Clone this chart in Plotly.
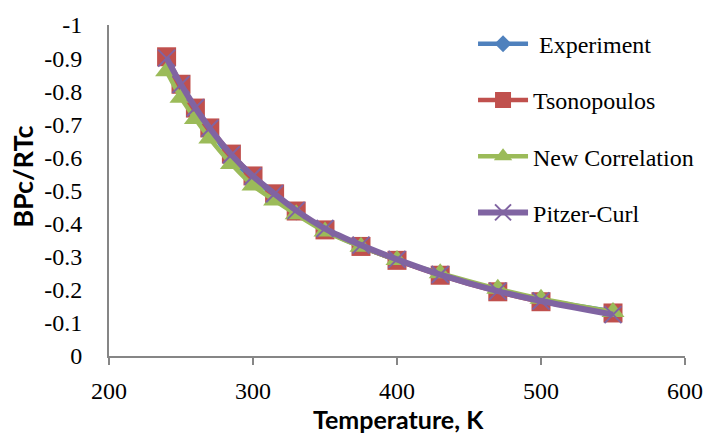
import plotly.graph_objects as go

# Reduced temperature data: second virial coefficient BPc/RTc vs temperature
temperature = [240, 250, 260, 270, 285, 300, 315, 330, 350, 375, 400, 430, 470, 500, 550]

experiment = [-0.900, -0.815, -0.745, -0.682, -0.597, -0.535, -0.485, -0.435,
              -0.380, -0.330, -0.290, -0.246, -0.200, -0.170, -0.135]
tsonopoulos = [-0.904, -0.821, -0.749, -0.689, -0.610, -0.544, -0.490, -0.438,
               -0.381, -0.331, -0.289, -0.244, -0.194, -0.164, -0.130]
new_correlation = [-0.860, -0.780, -0.716, -0.657, -0.580, -0.515, -0.470, -0.428,
                   -0.376, -0.330, -0.290, -0.250, -0.203, -0.173, -0.133]
pitzer_curl = [-0.900, -0.820, -0.750, -0.688, -0.608, -0.543, -0.490, -0.440,
               -0.385, -0.335, -0.292, -0.246, -0.196, -0.166, -0.125]

y_tick_vals = [0, -0.1, -0.2, -0.3, -0.4, -0.5, -0.6, -0.7, -0.8, -0.9, -1]
y_tick_text = ["0", "-0.1", "-0.2", "-0.3", "-0.4", "-0.5", "-0.6", "-0.7", "-0.8", "-0.9", "-1"]
x_tick_vals = [200, 300, 400, 500, 600]

BLUE = "#4F81BD"
RED = "#C0504D"
GREEN = "#9BBB59"
PURPLE = "#8064A2"

fig = go.Figure()

series = [
    (" Experiment", experiment, BLUE, dict(symbol="diamond", size=13, color=BLUE), 4.5),
    ("Tsonopoulos", tsonopoulos, RED, dict(symbol="square", size=19, color=RED), 4.5),
    ("New Correlation", new_correlation, GREEN, dict(symbol="triangle-up", size=20, color=GREEN), 4.5),
    ("Pitzer-Curl", pitzer_curl, PURPLE,
     dict(symbol="x-thin", size=17, color=PURPLE, line=dict(color=PURPLE, width=2)), 6),
]

for i, (name, vals, color, marker, lw) in enumerate(series):
    fig.add_trace(go.Scatter(
        x=temperature, y=vals, name=name, mode="lines+markers",
        line=dict(color=color, width=lw, shape="spline", smoothing=0.6),
        marker=marker, legendgroup=f"g{i}",
    ))

fig.update_layout(
    width=715, height=433,
    margin=dict(l=109, r=21, t=20, b=77),
    paper_bgcolor="white", plot_bgcolor="white",
    font=dict(family="Liberation Serif", size=24, color="black"),
    showlegend=True,
    legend=dict(
        x=0.632, y=1.01, xanchor="left", yanchor="top",
        font=dict(family="Liberation Serif", size=24, color="black"),
        tracegroupgap=22, itemwidth=50, bgcolor="rgba(0,0,0,0)",
    ),
    xaxis=dict(
        range=[200, 600], tickvals=x_tick_vals,
        showline=True, linecolor="#868686", linewidth=2,
        ticks="outside", ticklen=7, tickcolor="#868686", tickwidth=1.5,
        ticklabelstandoff=5,
        showgrid=False, zeroline=False,
        tickfont=dict(family="Liberation Serif", size=24),
    ),
    yaxis=dict(
        range=[0, -1], tickvals=y_tick_vals, ticktext=y_tick_text,
        showline=True, linecolor="#868686", linewidth=2,
        ticks="", ticklabelstandoff=20,
        showgrid=False, zeroline=False,
        tickfont=dict(family="Liberation Serif", size=24),
    ),
    annotations=[
        dict(text="Temperature, K", xref="paper", yref="paper",
             x=0.503, y=-0.19, yanchor="middle", xanchor="center",
             showarrow=False,
             font=dict(family="Lato", size=25, weight="bold", color="black")),
        dict(text="BPc/RTc", xref="paper", yref="paper",
             x=-0.15, y=0.54, xanchor="center", yanchor="middle",
             textangle=-90, showarrow=False,
             font=dict(family="Lato", size=27, weight="bold", color="black")),
    ],
)

fig.write_html("out.html")
